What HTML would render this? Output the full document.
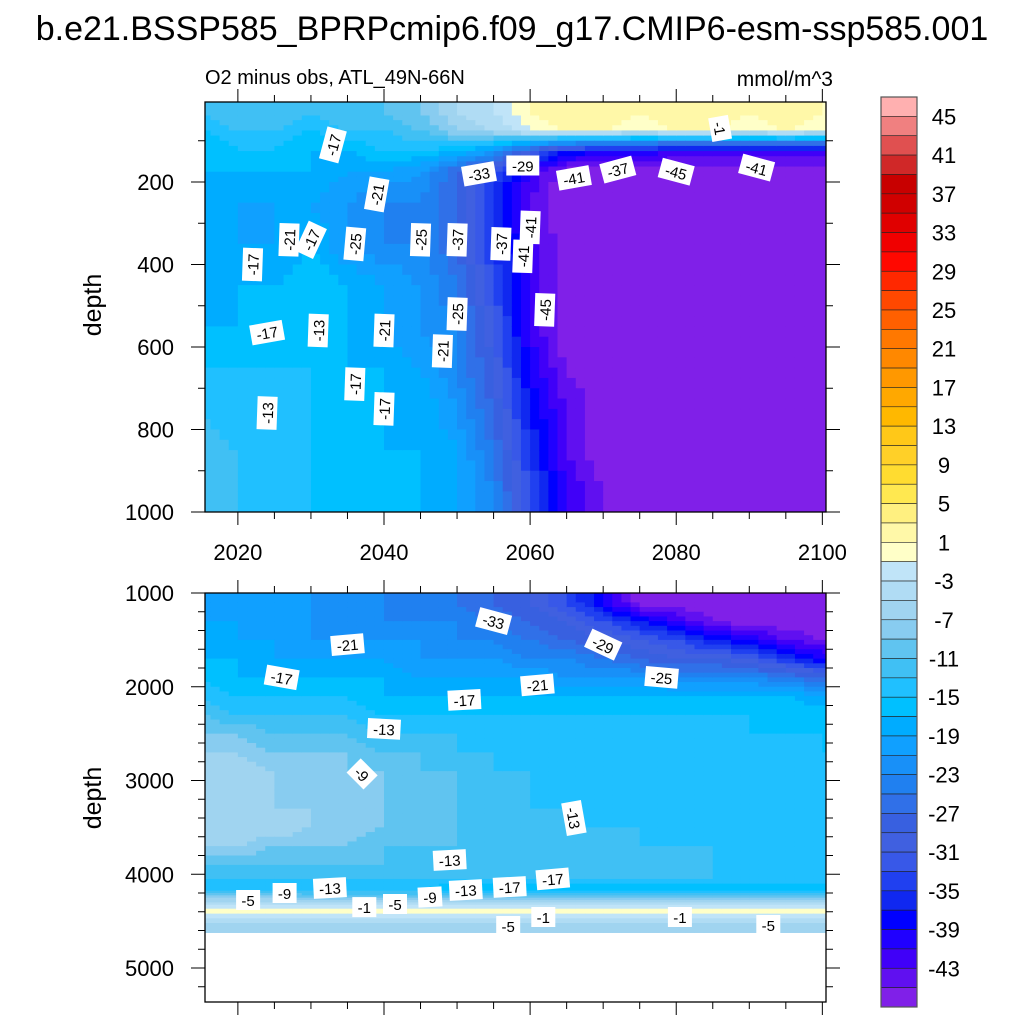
<!DOCTYPE html>
<html><head><meta charset="utf-8">
<style>
body{margin:0;background:#fff;}
svg{display:block;font-family:"Liberation Sans",sans-serif;}
</style></head>
<body>
<svg id="chart" width="1024" height="1024" viewBox="0 0 1024 1024" xmlns="http://www.w3.org/2000/svg">
<rect x="0" y="0" width="1024" height="1024" fill="#fff"/>
<text x="512" y="40" font-size="34" text-anchor="middle">b.e21.BSSP585_BPRPcmip6.f09_g17.CMIP6-esm-ssp585.001</text>
<text x="205" y="84" font-size="20">O2 minus obs, ATL_49N-66N</text>
<text x="833" y="86" font-size="21" text-anchor="end">mmol/m^3</text>
<text transform="translate(101,305) rotate(-90)" font-size="25" text-anchor="middle">depth</text>
<text transform="translate(101,798) rotate(-90)" font-size="25" text-anchor="middle">depth</text>
<defs>
<clipPath id="clipTop"><rect x="205" y="102" width="621" height="410"/></clipPath>
<clipPath id="clipBot"><rect x="205" y="593" width="621" height="409"/></clipPath>
</defs>
<g id="topCells" clip-path="url(#clipTop)"></g>
<g id="botCells" clip-path="url(#clipBot)"></g>
<g id="labels"></g>
<g id="axes"></g>
<g id="cbar"></g>
</svg>
<script>
const years = [2015,2020,2025,2030,2035,2040,2045,2050,2055,2060,2065,2070,2075,2080,2085,2090,2095,2100];
const topDepthEdges = [5,50,100,150,200,300,400,500,600,700,800,900,1000];
const P=-47;
const topValues = [
[-13,-11,-11,-13,-11,-11,-9,-5,-3,1,3,3,1,3,3,1,3,1],
[-15,-13,-13,-15,-13,-13,-11,-7,-5,-1,1,1,-1,1,1,-1,1,-1],
[-17,-15,-15,-17,-17,-15,-15,-17,-21,-29,-37,-39,-39,-41,-41,-41,-41,-41],
[-17,-17,-17,-17,-19,-19,-21,-27,-33,-41,P,P,P,P,P,P,P,P],
[-17,-19,-19,-19,-21,-23,-23,-27,-35,-43,P,P,P,P,P,P,P,P],
[-17,-19,-19,-17,-21,-23,-23,-27,-35,-41,P,P,P,P,P,P,P,P],
[-17,-17,-17,-15,-17,-19,-21,-25,-33,-41,P,P,P,P,P,P,P,P],
[-17,-17,-15,-15,-17,-19,-21,-23,-31,-41,P,P,P,P,P,P,P,P],
[-15,-15,-15,-15,-17,-17,-19,-23,-29,-39,-45,P,P,P,P,P,P,P],
[-13,-15,-13,-15,-15,-17,-17,-21,-27,-37,-43,P,P,P,P,P,P,P],
[-11,-13,-13,-15,-15,-17,-17,-19,-25,-35,-43,P,P,P,P,P,P,P],
[-11,-13,-13,-15,-15,-15,-17,-19,-23,-33,-41,-45,P,P,P,P,P,P]
];
const botDepthEdges = [1000,1200,1400,1600,1800,2000,2200,2400,2600,2800,3000,3200,3400,3600,3800,4000,4100,4200,4300,4350,4420,4620];
const botValues = [
[-19,-19,-19,-21,-21,-23,-23,-25,-27,-29,-33,-39,P,P,P,P,P,P],
[-19,-19,-21,-21,-21,-23,-23,-23,-25,-27,-29,-33,-37,-41,-45,P,P,P],
[-17,-19,-19,-21,-21,-21,-21,-23,-23,-25,-27,-29,-31,-33,-37,-39,-43,-45],
[-17,-17,-19,-19,-19,-19,-21,-21,-21,-23,-23,-25,-27,-29,-29,-31,-35,-39],
[-15,-17,-17,-17,-17,-17,-19,-19,-19,-19,-21,-21,-21,-23,-23,-23,-25,-27],
[-13,-15,-15,-15,-15,-17,-17,-17,-17,-17,-17,-17,-17,-17,-17,-17,-17,-19],
[-11,-13,-13,-13,-13,-15,-15,-15,-15,-15,-15,-15,-15,-15,-15,-15,-15,-15],
[-9,-9,-11,-11,-11,-13,-13,-13,-13,-13,-13,-13,-13,-13,-13,-15,-15,-15],
[-7,-7,-9,-9,-9,-11,-11,-13,-13,-13,-13,-13,-13,-13,-13,-13,-13,-15],
[-5,-5,-7,-7,-9,-9,-11,-11,-13,-13,-13,-13,-13,-13,-13,-13,-13,-13],
[-5,-5,-7,-7,-7,-9,-9,-11,-11,-13,-13,-13,-13,-13,-13,-13,-13,-13],
[-5,-5,-7,-7,-7,-9,-9,-11,-11,-13,-13,-13,-13,-13,-13,-13,-13,-13],
[-5,-5,-5,-7,-7,-9,-9,-11,-11,-11,-13,-13,-13,-13,-13,-13,-13,-13],
[-7,-7,-9,-9,-9,-11,-11,-11,-11,-11,-11,-11,-13,-13,-13,-13,-13,-13],
[-11,-11,-11,-11,-11,-11,-11,-11,-11,-11,-11,-11,-11,-11,-13,-13,-13,-13],
[-13,-13,-13,-13,-13,-13,-13,-13,-13,-13,-13,-13,-13,-13,-13,-13,-13,-13],
[-15,-15,-15,-15,-15,-15,-15,-17,-17,-17,-17,-17,-17,-17,-17,-17,-17,-17],
[-7,-7,-7,-9,-9,-9,-9,-9,-9,-9,-9,-9,-9,-9,-9,-9,-9,-9],
[-3,-3,-3,-3,-3,-3,-3,-3,-3,-3,-3,-3,-3,-3,-3,-3,-3,-3],
[0,0,0,0,0,0,0,0,0,0,0,0,0,0,0,0,0,0],
[-5,-5,-5,-5,-5,-5,-5,-5,-5,-5,-5,-5,-5,-5,-5,-5,-5,-5]
];
const cbarColors = ["#FFB0B0","#F08080","#E05050","#D02828","#C80000","#D00000","#E00000","#F00000","#FF0800","#FF2800","#FF4800","#FF6000","#FF7800","#FF8800","#FF9800","#FFA800","#FFB800","#FFC818","#FFD028","#FFDC30","#FFE850","#FFF080","#FFF8A8","#FFFFC8","#C0E4F8","#B0DCF4","#A0D4F0","#88CCF0","#60C4F0","#40C0F4","#20C0FF","#00C0FF","#00ACFF","#10A0FF","#1890F8","#2080F0","#3070E8","#3860E0","#4060E0","#3858E8","#2040F0","#1028F0","#0000FF","#2000FF","#4000F8","#6010F0","#8020E8"];
const cbarTickLabels = ["45","41","37","33","29","25","21","17","13","9","5","1","-3","-7","-11","-15","-19","-23","-27","-31","-35","-39","-43"];
const cbarTickLevels = [45,41,37,33,29,25,21,17,13,9,5,1,-3,-7,-11,-15,-19,-23,-27,-31,-35,-39,-43];
const xTickLabels = ["2020","2040","2060","2080","2100"];
const xTickYears = [2020,2040,2060,2080,2100];
const topYTicks = [200,400,600,800,1000];
const botYTicks = [1000,2000,3000,4000,5000];
const labelYears = [2033,2039,2027,2022,2030,2036,2045,2060,2056,2050,2053,2066,2072,2080,2091,2086,2059,2059,2062,2024,2031,2040,2036,2048,2024,2040,2050];
const labelDepths = [110,230,340,400,340,350,340,310,350,520,180,190,170,175,165,70,160,380,510,565,560,560,690,610,760,750,340];
const labelTexts = ["-17","-21","-21","-17","-17","-25","-25","-41","-37","-25","-33","-41","-37","-45","-41","-1","-29","-41","-45","-17","-13","-21","-17","-21","-13","-17","-37"];
const labelAngles = [-75,-80,-88,-88,-65,-85,-88,-88,-88,-88,-10,-10,-15,15,15,80,0,-88,-88,-10,-88,-88,-88,-88,-88,-88,-88];
const bLabelYears = [2035,2026,2055,2070,2061,2078,2051,2040,2037,2066,2049,2021.4,2026.4,2032.6,2037.3,2041.5,2046.3,2051.2,2057.2,2063.1,2061.8,2080.5,2057,2092.6];
const bLabelDepths = [1550,1900,1300,1550,1980,1900,2140,2450,2930,3400,3848,4275,4200,4147,4350,4317,4243,4168,4136,4050,4456,4456,4552,4541];
const bLabelTexts = ["-21","-17","-33","-29","-21","-25","-17","-13","-9","-13","-13","-5","-9","-13","-1","-5","-9","-13","-17","-17","-1","-1","-5","-5"];
const bLabelAngles = [-5,10,15,25,-5,5,-3,3,45,80,-3,0,0,-3,0,0,-3,-3,-3,-5,0,0,0,0];

const NS="http://www.w3.org/2000/svg";
const X0=205,X1=826,Y0=2015.5,YR1=2100.5;
function xs(yr){return X0+(yr-Y0)/(YR1-Y0)*(X1-X0);}
function ysTop(d){return 512-(1000-d)*0.4125;}
function ysBot(d){return 593+(d-1000)*0.09375;}
function colorFor(v){let k=Math.floor((47-v)/2);k=Math.max(0,Math.min(46,k));return cbarColors[k];}
function mk(tag,attrs,parent){const e=document.createElementNS(NS,tag);for(const k in attrs)e.setAttribute(k,attrs[k]);parent.appendChild(e);return e;}

function sample(vals,edges,yr,d){
  const nr=vals.length,nc=years.length;
  let cf=(yr-years[0])/5; cf=Math.max(0,Math.min(nc-1,cf));
  const centers=[];for(let r=0;r<nr;r++)centers.push((edges[r]+edges[r+1])/2);
  let rf=0;
  if(d<=centers[0])rf=0;else if(d>=centers[nr-1])rf=nr-1;else{for(let r=0;r<nr-1;r++){if(d>=centers[r]&&d<=centers[r+1]){rf=r+(d-centers[r])/(centers[r+1]-centers[r]);break;}}}
  const c0=Math.floor(cf),c1=Math.min(nc-1,c0+1),fc=cf-c0;
  const r0=Math.floor(rf),r1=Math.min(nr-1,r0+1),fr=rf-r0;
  const a=vals[r0][c0]*(1-fc)+vals[r0][c1]*fc;
  const b=vals[r1][c0]*(1-fc)+vals[r1][c1]*fc;
  return a*(1-fr)+b*fr;
}
function drawCells(g,edges,vals,ys,name){
  const S=4;
  for(let r=0;r<vals.length;r++){
    for(let c=0;c<years.length;c++){
      for(let i=0;i<S;i++)for(let j=0;j<S;j++){
        const y0=years[c]-2.5+5*i/S,y1=years[c]-2.5+5*(i+1)/S;
        const d0=edges[r]+(edges[r+1]-edges[r])*j/S,d1=edges[r]+(edges[r+1]-edges[r])*(j+1)/S;
        const v=sample(vals,edges,(y0+y1)/2,(d0+d1)/2);
        const xa=xs(y0),xb=xs(y1),ya=ys(d0),yb=ys(d1);
        const e=mk('rect',{x:xa.toFixed(2),y:Math.min(ya,yb).toFixed(2),width:(xb-xa+0.6).toFixed(2),height:(Math.abs(yb-ya)+0.6).toFixed(2),fill:colorFor(v)},g);
        
        
      }
    }
  }
}
drawCells(document.getElementById('topCells'),topDepthEdges,topValues,ysTop,'top-cell');
drawCells(document.getElementById('botCells'),botDepthEdges,botValues,ysBot,'bottom-cell');

const lg=document.getElementById('labels');
function addLabel(x,y,t,a){
  const g=mk('g',{transform:`translate(${x.toFixed(1)},${y.toFixed(1)}) rotate(${a})`},lg);
  
  
  const w=t.length*9+6;
  mk('rect',{x:-w/2,y:-10,width:w,height:20,fill:'#fff'},g);
  mk('text',{x:0,y:6,'font-size':15,'text-anchor':'middle'},g).textContent=t;
}
for(let i=0;i<labelTexts.length;i++)addLabel(xs(labelYears[i]),ysTop(labelDepths[i]),labelTexts[i],labelAngles[i]);
for(let i=0;i<bLabelTexts.length;i++)addLabel(xs(bLabelYears[i]),ysBot(bLabelDepths[i]),bLabelTexts[i],bLabelAngles[i]);

const ax=document.getElementById('axes');
function line(x1,y1,x2,y2,w,name){const e=mk('line',{x1,y1,x2,y2,stroke:'#000','stroke-width':w},ax);return e;}
function frame(top,bot,name){const e=mk('rect',{x:X0,y:top,width:X1-X0,height:bot-top,fill:'none',stroke:'#000','stroke-width':1.3},ax);}
frame(102,512,'top-panel-frame');frame(593,1002,'bottom-panel-frame');
for(let yr=2020;yr<=2100;yr+=5){
  const x=xs(yr),maj=(yr%20===0),L=maj?13:7;
  line(x,102,x,102-L,1,'x-tick');line(x,512,x,512+L,1,'x-tick');
  line(x,593,x,593-L,1,'x-tick');line(x,1002,x,1002+L,1,'x-tick');
}
for(let i=0;i<xTickLabels.length;i++){const t=mk('text',{x:xs(xTickYears[i]),y:560,'font-size':22,'text-anchor':'middle'},ax);t.textContent=xTickLabels[i];}
for(let d=100;d<=1000;d+=100){const y=ysTop(d),maj=(d%200===0),L=maj?14:7;line(X0-L,y,X0,y,1,'y-tick');line(X1,y,X1+L,y,1,'y-tick');}
for(const d of topYTicks){const t=mk('text',{x:174,y:ysTop(d)+8,'font-size':22,'text-anchor':'end'},ax);t.textContent=String(d);}
for(let d=1000;d<=5300;d+=200){const y=ysBot(d),maj=(d%1000===0),L=maj?14:7;line(X0-L,y,X0,y,1,'y-tick');line(X1,y,X1+L,y,1,'y-tick');}
for(const d of botYTicks){const t=mk('text',{x:174,y:ysBot(d)+8,'font-size':22,'text-anchor':'end'},ax);t.textContent=String(d);}

const cb=document.getElementById('cbar');
const CB0=97,CBH=910,bh=CBH/cbarColors.length;
for(let k=0;k<cbarColors.length;k++){const e=mk('rect',{x:881,y:(CB0+k*bh).toFixed(2),width:36,height:bh.toFixed(2),fill:cbarColors[k],stroke:'#222','stroke-width':0.6},cb);}
mk('rect',{x:881,y:CB0,width:36,height:CBH,fill:'none',stroke:'#555','stroke-width':1.2},cb);
for(let i=0;i<cbarTickLabels.length;i++){const k=(45-cbarTickLevels[i])/2;const y=CB0+(k+1)*bh;const t=mk('text',{x:944,y:y+8,'font-size':22,'text-anchor':'middle'},cb);t.textContent=cbarTickLabels[i];}
</script>
</body></html>
